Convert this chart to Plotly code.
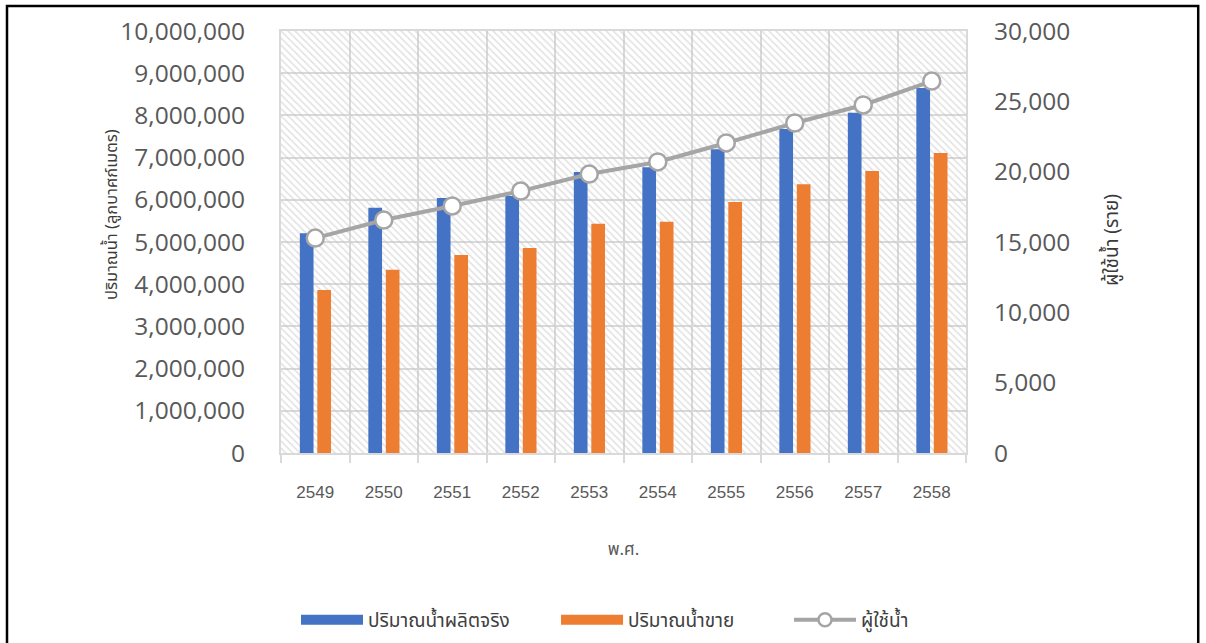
import plotly.graph_objects as go

years = ["2549", "2550", "2551", "2552", "2553", "2554", "2555", "2556", "2557", "2558"]
produced = [5210000, 5810000, 6040000, 6090000, 6660000, 6770000, 7200000, 7680000, 8060000, 8650000]
sold = [3860000, 4340000, 4690000, 4860000, 5430000, 5480000, 5950000, 6370000, 6680000, 7110000]
users = [15280, 16560, 17560, 18620, 19830, 20690, 22040, 23460, 24740, 26440]

left_max = 10000000
right_max = 30000
left_ticks = list(range(0, left_max + 1, 1000000))
right_ticks = list(range(0, right_max + 1, 5000))

BLUE = "#4472C4"
ORANGE = "#ED7D31"
GRAY = "#A5A5A5"

tick_font = dict(family="Open Sans, Liberation Sans, sans-serif", size=24.5, color="#595959")
thai_font = "Noto Sans Thai, Loma, Garuda, Norasi, Noto Sans, sans-serif"

fig = go.Figure()

# hatched plot-area background
fig.add_trace(go.Bar(
    x=years, y=[left_max] * len(years), width=1, offset=-0.5,
    marker=dict(color="rgba(0,0,0,0)", line=dict(width=0),
                pattern=dict(shape="\\", fgcolor="#c4c4c4", bgcolor="rgba(0,0,0,0)",
                             size=5, solidity=0.3)),
    showlegend=False, hoverinfo="skip",
))

fig.add_trace(go.Bar(
    x=years, y=produced, name="ปริมาณน้ำผลิตจริง", showlegend=False, legendgroup="p",
    width=0.2, offset=-0.225, marker=dict(color=BLUE, line=dict(width=0)),
))
fig.add_trace(go.Bar(
    x=years, y=sold, name="ปริมาณน้ำขาย", showlegend=False, legendgroup="s",
    width=0.2, offset=0.03, marker=dict(color=ORANGE, line=dict(width=0)),
))
fig.add_trace(go.Scatter(
    x=years, y=users, name="ผู้ใช้น้ำ", yaxis="y2", mode="lines+markers", showlegend=False,
    legendgroup="u",
    line=dict(color=GRAY, width=4),
    marker=dict(symbol="circle", size=17, color="white", line=dict(color=GRAY, width=2.5)),
))

# legend entries (wide rectangles like the original), one legend each for placement
fig.add_trace(go.Scatter(x=[None], y=[None], mode="lines", name="ปริมาณน้ำผลิตจริง",
                         legend="legend", legendgroup="p", line=dict(color=BLUE, width=13)))
fig.add_trace(go.Scatter(x=[None], y=[None], mode="lines", name="ปริมาณน้ำขาย",
                         legend="legend2", legendgroup="s", line=dict(color=ORANGE, width=13)))
fig.add_trace(go.Scatter(x=[None], y=[None], mode="lines+markers", name="ผู้ใช้น้ำ",
                         legend="legend3", legendgroup="u", line=dict(color=GRAY, width=4),
                         marker=dict(symbol="circle", size=13, color="white",
                                     line=dict(color=GRAY, width=2.5))))

legend_common = dict(orientation="h", xanchor="left", yref="container", y=0.0358,
                     yanchor="middle", bgcolor="rgba(0,0,0,0)",
                     font=dict(family=thai_font, size=19, color="#404040"), itemwidth=62)

fig.update_layout(
    width=1206, height=643,
    margin=dict(l=281, r=240, t=31, b=190),
    paper_bgcolor="white", plot_bgcolor="white",
    barmode="overlay",
    showlegend=True,
    legend=dict(x=0.0219, **legend_common),
    legend2=dict(x=0.4015, **legend_common),
    legend3=dict(x=0.7416, **legend_common),
    xaxis=dict(
        type="category", range=[-0.5, 9.5], tickson="boundaries", automargin=False,
        showgrid=True, gridcolor="#d9d9d9", gridwidth=2,
        showline=True, linecolor="#d9d9d9", linewidth=2, mirror=True,
        ticks="outside", ticklen=8, tickcolor="#d9d9d9", tickwidth=1.5,
        tickfont=dict(family="Liberation Sans, Arial, sans-serif", size=17, color="#595959"),
        ticklabelstandoff=23,
        title=dict(text="พ.ศ.", font=dict(family=thai_font, size=17, color="#595959"), standoff=42),
    ),
    yaxis=dict(
        range=[0, left_max], tickvals=left_ticks, tickformat=",d", automargin=False,
        showgrid=True, gridcolor="#d9d9d9", gridwidth=2, zeroline=False,
        showline=True, linecolor="#d9d9d9", linewidth=2, mirror=True,
        tickfont=tick_font, ticklabelstandoff=29,
    ),
    yaxis2=dict(
        range=[0, right_max], tickvals=right_ticks, tickformat=",d", automargin=False,
        overlaying="y", side="right", showgrid=False, zeroline=False,
        tickfont=tick_font, ticklabelstandoff=27,
    ),
    annotations=[
        dict(text="ปริมาณน้ำ (ลูกบาศก์เมตร)", xref="paper", yref="paper", x=-0.2467, y=0.564,
             textangle=-90, showarrow=False, xanchor="center", yanchor="middle",
             font=dict(family=thai_font, size=16.5, color="#3a3a3a")),
        dict(text="ผู้ใช้น้ำ (ราย)", xref="paper", yref="paper", x=1.2131, y=0.5047,
             textangle=-90, showarrow=False, xanchor="center", yanchor="middle",
             font=dict(family=thai_font, size=19, color="#3a3a3a")),
    ],
    shapes=[dict(type="rect", xref="paper", yref="paper",
                 x0=-0.400, x1=1.339, y0=-0.47, y1=1.059,
                 line=dict(color="black", width=2.5), fillcolor="rgba(0,0,0,0)", layer="above")],
)

fig.write_html("out.html", config={"displayModeBar": False},
               post_script="document.body.style.margin='0';")
